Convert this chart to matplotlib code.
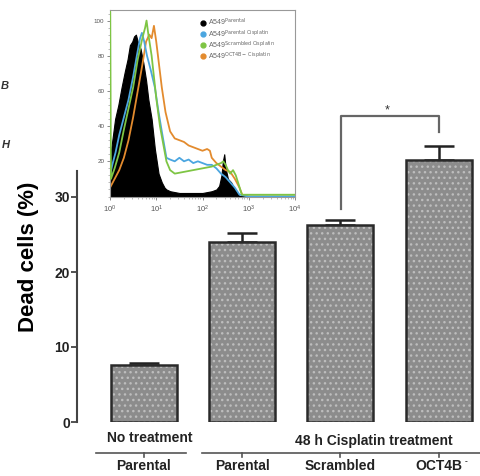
import numpy as np
import matplotlib
matplotlib.use('Agg')
import matplotlib.pyplot as plt
from matplotlib.ticker import MultipleLocator, LogLocator

plt.rcParams['font.family'] = ['Liberation Sans', 'DejaVu Sans']

# Dados do gráfico de barras
categorias = ['Parental', 'Parental', 'Scrambled', 'OCT4B']
mortas = [7.6, 24.0, 26.3, 34.9]
erros = [0.3, 1.2, 0.7, 1.9]
grupos = ['No treatment', '48 h Cisplatin treatment']

# Dados do histograma (log10 da intensidade, % do máximo)
lx_parental = [0, 0.05, 0.11, 0.18, 0.25, 0.32, 0.38, 0.43, 0.48, 0.52, 0.56, 0.6, 0.66,
               0.72, 0.78, 0.83, 0.9, 0.97, 1.05, 1.12, 1.18, 1.22, 1.3, 1.5, 1.8, 2.0,
               2.2, 2.3, 2.36, 2.41, 2.44, 2.47, 2.5, 2.55, 2.62, 2.7, 2.76, 2.8, 3.0, 4.0]
y_parental = [22, 32, 44, 52, 62, 71, 78, 86, 88, 91, 92, 88, 84, 76, 66, 55, 44, 27, 13,
              8, 5, 4, 3, 2, 2, 2, 3, 4, 6, 12, 20, 24, 16, 10, 8, 4, 2, 0, 0, 0]

lx_par_cis = [0, 0.05, 0.12, 0.2, 0.3, 0.4, 0.5, 0.58, 0.65, 0.69, 0.74, 0.8, 0.88, 0.97,
              1.05, 1.12, 1.18, 1.22, 1.3, 1.4, 1.5, 1.6, 1.7, 1.8, 1.9, 2.0, 2.1, 2.2,
              2.3, 2.4, 2.5, 2.6, 2.7, 2.8, 3.0, 4.0]
y_par_cis = [12, 18, 25, 35, 45, 55, 68, 80, 90, 93, 88, 80, 72, 62, 48, 37, 28, 22, 21,
             20, 22, 20, 21, 19, 20, 19, 18, 18, 16, 13, 11, 8, 5, 1, 0, 0]

lx_scr_cis = [0, 0.005, 0.02, 0.1, 0.2, 0.3, 0.4, 0.5, 0.6, 0.7, 0.76, 0.79, 0.83, 0.9,
              1.0, 1.08, 1.15, 1.22, 1.3, 1.4, 1.6, 1.8, 2.0, 2.2, 2.3, 2.4, 2.45, 2.5,
              2.55, 2.6, 2.66, 2.72, 2.78, 2.85, 3.0, 4.0]
y_scr_cis = [105, 105, 10, 16, 25, 38, 50, 62, 78, 90, 96, 100, 92, 80, 56, 40, 30, 20,
             15, 13, 14, 15, 16, 17, 18, 19, 20, 18, 15, 13, 15, 12, 7, 1, 1, 1]

lx_oct_cis = [0, 0.1, 0.2, 0.3, 0.4, 0.5, 0.6, 0.7, 0.78, 0.85, 0.9, 0.95, 1.0, 1.06,
              1.12, 1.2, 1.3, 1.4, 1.5, 1.6, 1.7, 1.8, 1.9, 2.0, 2.1, 2.16, 2.2, 2.3,
              2.4, 2.5, 2.6, 2.7, 2.8, 2.86, 3.0, 4.0]
y_oct_cis = [5, 10, 15, 22, 32, 45, 60, 75, 88, 92, 90, 97, 88, 75, 62, 48, 37, 33, 32,
             31, 29, 28, 27, 26, 27, 26, 22, 19, 17, 15, 14, 10, 5, 1, 0, 0]

rotulos_hist = ['A549$^{\\mathrm{Parental}}$', 'A549$^{\\mathrm{Parental\\ Cisplatin}}$',
                'A549$^{\\mathrm{Scrambled\\ Cisplatin}}$', 'A549$^{\\mathrm{OCT4B\\!-\\ Cisplatin}}$']
cores_hist = ['black', '#4ba6e0', '#7ec544', '#e38b2e']

fig = plt.figure(figsize=(4.81, 4.76), dpi=100)

# Gráfico principal
ax = fig.add_axes([0.16, 54 / 476, 404 / 481, 330 / 476])
x = np.arange(len(mortas))
ax.bar(x, mortas, width=0.67, color='#8c8c8c', edgecolor='#bdbdbd', hatch='...',
       linewidth=0, zorder=2)
ax.bar(x, mortas, width=0.67, fill=False, edgecolor='#2a2a2a', linewidth=1.8, zorder=3)
ax.errorbar(x, mortas, yerr=[np.zeros(len(erros)), erros], fmt='none', ecolor='#222222',
            elinewidth=1.8, capsize=11, capthick=1.8, zorder=1)

ax.set_xlim(-0.68, 3.43)
ax.set_ylim(0, 44)
ax.set_yticks([0, 10, 20, 30])
ax.set_xticks([])
for s in ['top', 'right', 'bottom']:
    ax.spines[s].set_visible(False)
ax.spines['left'].set_bounds(0, 33.5)
ax.spines['left'].set_color('#444444')
ax.spines['left'].set_linewidth(1.5)
ax.tick_params(axis='y', length=4, width=1.3, color='#444444', labelsize=10, pad=1)
for t in ax.get_yticklabels():
    t.set_fontweight('bold')
    t.set_color('#222222')
ax.set_ylabel('Dead cells (%)', fontsize=16, fontweight='bold', labelpad=11)

# Rótulos de grupo e categoria abaixo das barras
kw = dict(clip_on=False, color='#555555', linewidth=1.2)
ax.plot([-0.49, 0.43], [-4.13, -4.13], **kw)
ax.plot([0.59, 3.43], [-4.13, -4.13], **kw)
for xi in x:
    ax.plot([xi, xi], [-4.13, -4.6], **kw)
ax.text(0.06, -2.1, grupos[0], ha='center', va='center', fontsize=10, fontweight='bold',
        color='#222222', clip_on=False)
ax.text(2.34, -2.5, grupos[1], ha='center', va='center', fontsize=10, fontweight='bold',
        color='#222222', clip_on=False)
for xi, c in zip(x, categorias):
    ax.text(xi, -5.8, c, ha='center', va='center', fontsize=10, fontweight='bold',
            color='#222222', clip_on=False)
# sobrescrito pequeno do OCT4B
ax.annotate('-', xy=(x[-1], -5.8), xytext=(19, 3), textcoords='offset points',
            fontsize=6, fontweight='bold', color='#222222', va='center',
            annotation_clip=False)

# Barra de significância
ax.plot([2.01, 2.01, 3.0, 3.0], [28.4, 40.8, 40.8, 38.7], color='#666666', linewidth=1.6)
ax.text(2.48, 41.6, '*', ha='center', va='center', fontsize=9, color='#333333')

# Fragmentos de texto cortados na borda
fig.text(9 / 481, 1 - 86 / 476, 'B', ha='right', va='center', fontsize=8,
         style='italic', fontweight='bold', color='#333333')
fig.text(10 / 481, 1 - 145 / 476, 'H', ha='right', va='center', fontsize=8,
         style='italic', fontweight='bold', color='#333333')

# Histograma (inset)
axi = fig.add_axes([110 / 481, 1 - 196.5 / 476, 185 / 481, 186.5 / 476])
axi.fill_between(10 ** np.array(lx_parental), y_parental, color='black', linewidth=0.8,
                 edgecolor='black', zorder=1)
series = [(lx_par_cis, y_par_cis), (lx_scr_cis, y_scr_cis), (lx_oct_cis, y_oct_cis)]
for (lx, yy), cor, z in zip(series, cores_hist[1:], [3, 4, 2]):
    axi.plot(10 ** np.array(lx), yy, color=cor, linewidth=1.3, zorder=z)
axi.set_xscale('log')
axi.set_xlim(1, 1e4)
axi.set_ylim(0, 106)
axi.set_yticks([20, 40, 60, 80, 100])
axi.yaxis.set_minor_locator(MultipleLocator(4))
axi.xaxis.set_major_locator(LogLocator(base=10))
axi.tick_params(axis='both', which='major', labelsize=4.5, length=2.5, width=0.6,
                color='#777777', labelcolor='#555555', pad=1.5)
axi.tick_params(axis='both', which='minor', length=1.3, width=0.4, color='#888888')
axi.tick_params(axis='x', labelsize=5.5, pad=3)
for s in axi.spines.values():
    s.set_color('#999999')
    s.set_linewidth(0.8)

# Legenda do histograma
for i, (rot, cor) in enumerate(zip(rotulos_hist, cores_hist)):
    yl = 0.932 - i * 0.06
    axi.plot([0.5], [yl], marker='o', markersize=3.5, color=cor, transform=axi.transAxes,
             clip_on=False, zorder=6)
    axi.text(0.53, yl, rot, transform=axi.transAxes, fontsize=5, va='center',
             ha='left', color='#666666', zorder=6)

fig.savefig('out.png', dpi=100)
